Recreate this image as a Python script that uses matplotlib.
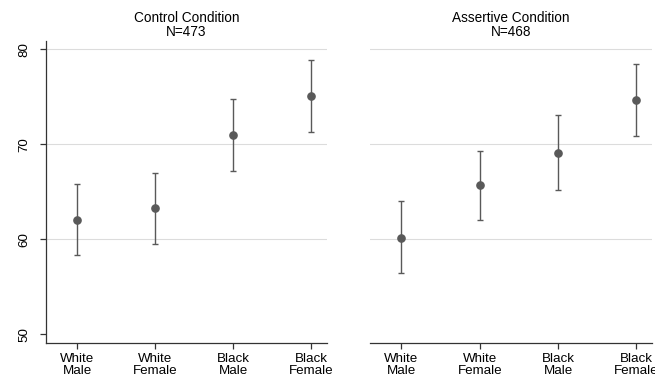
import matplotlib.pyplot as plt
import numpy as np

plt.rcParams['font.family'] = ['Liberation Sans', 'DejaVu Sans']

groups = ['White\nMale', 'White\nFemale', 'Black\nMale', 'Black\nFemale']
titles = ['Control Condition\nN=473', 'Assertive Condition\nN=468']

# means with lower / upper confidence bounds per condition
control_mean = [62.0, 63.3, 71.0, 75.1]
control_lo = [58.3, 59.5, 67.2, 71.3]
control_hi = [65.8, 67.0, 74.8, 78.9]

assertive_mean = [60.1, 65.7, 69.1, 74.6]
assertive_lo = [56.4, 62.0, 65.2, 70.9]
assertive_hi = [64.0, 69.3, 73.1, 78.4]

yticks = [50, 60, 70, 80]

fig = plt.figure(figsize=(6.55, 3.78), dpi=100)
ax1 = fig.add_axes([0.0702, 0.0934, 0.429, 0.798])
ax2 = fig.add_axes([0.565, 0.0934, 0.4305, 0.798])

panels = [
    (ax1, control_mean, control_lo, control_hi, titles[0]),
    (ax2, assertive_mean, assertive_lo, assertive_hi, titles[1]),
]

x = np.arange(len(groups))
for ax, mean, lo, hi, title in panels:
    mean = np.array(mean)
    err = np.vstack([mean - np.array(lo), np.array(hi) - mean])
    for yt in yticks[1:]:
        ax.axhline(yt, color='#dcdcdc', lw=0.8, zorder=0)
    ax.errorbar(x, mean, yerr=err, fmt='o', color='#595959', ecolor='#595959',
                elinewidth=1.0, capsize=2.2, capthick=1.0, markersize=5.2, zorder=3)
    ax.set_xlim(-0.4, 3.2)
    ax.set_ylim(49.1, 80.85)
    ax.set_xticks(x)
    ax.set_xticklabels(groups, fontsize=9.6, linespacing=0.95)
    ax.set_title(title, fontsize=9.8, linespacing=0.98, pad=3.5)
    for side in ['top', 'right']:
        ax.spines[side].set_visible(False)
    ax.spines['bottom'].set_color('#333333')
    ax.spines['bottom'].set_linewidth(0.9)
    ax.tick_params(axis='x', length=4, width=0.9, color='#333333', pad=3.5)

ax1.set_yticks(yticks)
ax1.set_yticklabels([str(v) for v in yticks], fontsize=9.6, rotation=90, va='center')
ax1.spines['left'].set_color('#333333')
ax1.spines['left'].set_linewidth(0.9)
ax1.tick_params(axis='y', length=4, width=0.9, color='#333333', pad=7)

ax2.spines['left'].set_visible(False)
ax2.set_yticks([])

fig.savefig('out.png', dpi=100)
